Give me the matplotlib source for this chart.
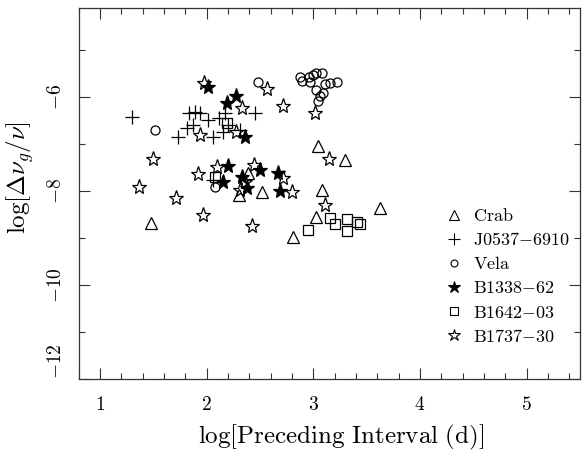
import matplotlib
matplotlib.use('Agg')
import matplotlib.pyplot as plt
from matplotlib.ticker import MultipleLocator
from matplotlib.lines import Line2D

plt.rcParams['mathtext.fontset'] = 'cm'
plt.rcParams['font.family'] = ['DejaVu Serif']

# ---- data (log preceding interval [d], log glitch size) ----
crab_x = [1.48, 3.04, 3.30, 3.08, 3.03, 2.81, 2.52, 2.30, 3.63, 2.39]
crab_y = [-8.68, -7.04, -7.34, -7.98, -8.55, -8.98, -8.02, -8.09, -8.36, -7.62]

j0537_x = [1.30, 1.73, 1.82, 1.84, 1.89, 1.87, 1.94, 2.01, 2.06, 2.12, 2.17, 2.15, 2.20, 2.31, 2.45, 2.06]
j0537_y = [-6.43, -6.85, -6.66, -6.34, -6.32, -6.60, -6.34, -6.49, -6.85, -6.45, -6.34, -6.74, -6.60, -6.70, -6.34, -7.77]

vela_x = [2.48, 1.52, 2.08, 2.88, 2.89, 2.96, 3.00, 3.08, 2.97, 3.16, 3.22, 3.11, 3.03, 3.09, 3.06, 3.04, 3.03]
vela_y = [-5.68, -6.70, -7.91, -5.57, -5.66, -5.57, -5.53, -5.49, -5.68, -5.70, -5.68, -5.72, -5.85, -5.91, -5.98, -6.09, -5.49]

b1338_x = [2.01, 2.28, 2.19, 2.36, 2.20, 2.50, 2.67, 2.33, 2.15, 2.38, 2.69]
b1338_y = [-5.79, -5.98, -6.13, -6.85, -7.47, -7.55, -7.62, -7.70, -7.81, -7.94, -8.00]

b1642_x = [2.95, 3.16, 3.20, 3.32, 3.32, 3.41, 3.44, 2.08, 2.19]
b1642_y = [-8.83, -8.57, -8.70, -8.60, -8.85, -8.66, -8.70, -7.70, -6.55]

b1737_x = [1.98, 2.57, 2.33, 2.72, 3.02, 1.94, 2.28, 1.50, 3.15, 1.92, 2.10, 2.44,
           1.37, 1.71, 1.97, 2.43, 2.72, 2.80, 2.36, 3.11, 2.31]
b1737_y = [-5.70, -5.83, -6.23, -6.19, -6.34, -6.81, -6.74, -7.32, -7.32, -7.64, -7.49, -7.45,
           -7.91, -8.15, -8.51, -8.74, -7.72, -8.02, -7.81, -8.30, -7.98]

labels = ['Crab', 'J0537{-}6910', 'Vela', 'B1338{-}62', 'B1642{-}03', 'B1737{-}30']

x_ticks = [1, 2, 3, 4, 5]
y_ticks = [-12, -10, -8, -6]

fig = plt.figure(figsize=(5.82, 4.62), dpi=100)
ax = fig.add_axes([0.1349, 0.1797, 0.8617, 0.8030])

kw = dict(ls='none', mec='black', mew=0.9)
ax.plot(crab_x, crab_y, marker='^', mfc='none', ms=8.5, **kw)
ax.plot(j0537_x, j0537_y, marker='+', ms=10, color='black', ls='none', mew=0.9)
ax.plot(vela_x, vela_y, marker='o', mfc='none', ms=6.5, **kw)
ax.plot(b1642_x, b1642_y, marker='s', mfc='none', ms=6.5, **kw)
ax.plot(b1737_x, b1737_y, marker='*', mfc='none', ms=11, **kw)
ax.plot(b1338_x, b1338_y, marker='*', mfc='black', ms=11, **kw)

ax.set_xlim(0.8, 5.5)
ax.set_ylim(-12, -4.1)
ax.set_xticks(x_ticks, [r'$%d$' % v for v in x_ticks])
ax.set_yticks(y_ticks, [r'$%d$' % v for v in y_ticks])
ax.xaxis.set_minor_locator(MultipleLocator(0.2))
ax.yaxis.set_minor_locator(MultipleLocator(1))
ax.tick_params(which='both', direction='in', top=True, right=True, width=0.8, color='#333333')
ax.tick_params(which='major', length=8, labelsize=14)
ax.tick_params(which='minor', length=4.5)
ax.tick_params(axis='x', which='major', pad=12)
ax.tick_params(axis='y', which='major', pad=10)
for lab in ax.get_yticklabels():
    lab.set_rotation(90)
    lab.set_va('center')
ax.get_yticklabels()[0].set_va('bottom')
for s in ax.spines.values():
    s.set_linewidth(0.9)
    s.set_color('#333333')

fig.text(341/582, 1 - 437/462, r'$\mathrm{log[Preceding\ Interval\ (d)]}$', ha='center', va='center', fontsize=18)
fig.text(20/582, 1 - 178/462, r'$\mathrm{log}[\Delta\nu_g/\nu]$', ha='center', va='center', fontsize=18, rotation=90)

handles = [
    Line2D([], [], marker='^', ls='none', mfc='none', mec='k', ms=7, mew=0.8),
    Line2D([], [], marker='+', ls='none', color='k', ms=8, mew=0.8),
    Line2D([], [], marker='o', ls='none', mfc='none', mec='k', ms=5, mew=0.8),
    Line2D([], [], marker='*', ls='none', mfc='k', mec='k', ms=9, mew=0.8),
    Line2D([], [], marker='s', ls='none', mfc='none', mec='k', ms=6, mew=0.8),
    Line2D([], [], marker='*', ls='none', mfc='none', mec='k', ms=9, mew=0.8),
]
leg = ax.legend(handles, [r'$\mathrm{%s}$' % l for l in labels], loc='upper left',
                bbox_to_anchor=((445 - 78.5) / 501.5, 1 - (207 - 8) / 371), frameon=False,
                fontsize=13, handlelength=1.0, handletextpad=0.55, labelspacing=0.34,
                borderaxespad=0, borderpad=0)

fig.savefig('out.png', dpi=100)
